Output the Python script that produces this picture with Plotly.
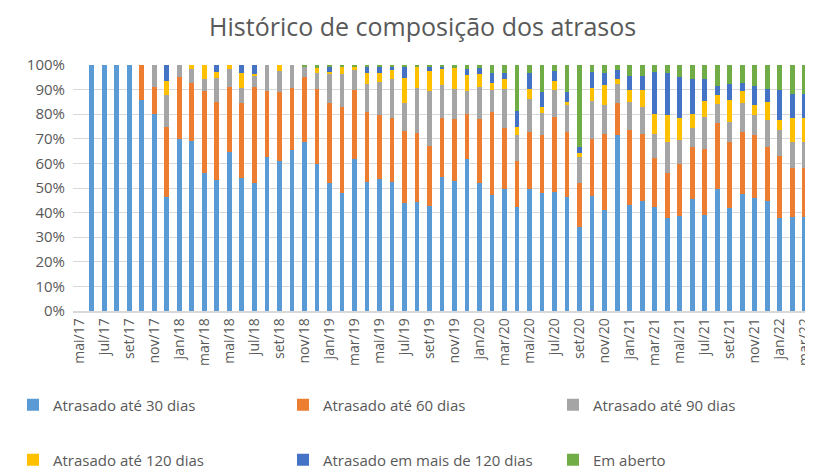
import plotly.graph_objects as go

months = ["mai/17", "jun/17", "jul/17", "ago/17", "set/17", "out/17", "nov/17", "dez/17",
          "jan/18", "fev/18", "mar/18", "abr/18", "mai/18", "jun/18", "jul/18", "ago/18",
          "set/18", "out/18", "nov/18", "dez/18",
          "jan/19", "fev/19", "mar/19", "abr/19", "mai/19", "jun/19", "jul/19", "ago/19",
          "set/19", "out/19", "nov/19", "dez/19",
          "jan/20", "fev/20", "mar/20", "abr/20", "mai/20", "jun/20", "jul/20", "ago/20",
          "set/20", "out/20", "nov/20", "dez/20",
          "jan/21", "fev/21", "mar/21", "abr/21", "mai/21", "jun/21", "jul/21", "ago/21",
          "set/21", "out/21", "nov/21", "dez/21",
          "jan/22", "fev/22", "mar/22"]

ate_30 = [0, 100, 100, 100, 100, 85.8, 80.0, 46.3, 69.9, 69.1, 56.1, 53.3, 64.8, 54.2,
          51.9, 62.7, 60.8, 65.4, 68.6, 59.9, 52.0, 47.8, 61.9, 52.3, 53.5, 52.4, 43.9,
          44.4, 42.5, 54.3, 52.8, 61.9, 52.2, 47.3, 49.6, 42.1, 49.6, 48.0, 48.2, 46.3,
          34.3, 46.6, 41.1, 71.4, 43.1, 44.6, 42.1, 37.7, 38.8, 45.5, 39.0, 49.6, 42.0,
          47.4, 45.8, 44.9, 37.7, 38.1, 38.1]
ate_60 = [0, 0, 0, 0, 0, 14.2, 11.2, 28.4, 25.4, 23.4, 33.5, 31.5, 26.3, 30.2,
          39.2, 26.9, 28.2, 25.1, 26.5, 30.2, 32.4, 35.1, 27.9, 28.7, 26.2, 26.1, 29.3,
          27.8, 24.6, 24.0, 25.4, 18.3, 25.8, 33.6, 24.9, 18.7, 23.0, 23.4, 30.5, 26.3,
          17.9, 23.5, 30.7, 13.3, 30.3, 27.4, 20.0, 18.5, 20.8, 21.2, 26.7, 26.7, 26.6,
          25.4, 25.7, 21.6, 25.2, 19.9, 19.9]
ate_90 = [0, 0, 0, 0, 0, 0, 8.8, 13.0, 4.7, 5.7, 4.8, 10.1, 7.1, 6.4,
          4.4, 10.4, 8.6, 9.5, 4.0, 6.6, 11.8, 13.3, 8.0, 11.1, 13.4, 15.9, 11.2,
          18.3, 22.2, 13.7, 12.2, 9.4, 12.9, 8.8, 15.9, 10.6, 13.4, 9.0, 11.3, 11.0,
          10.3, 15.1, 12.1, 7.6, 11.4, 11.1, 9.7, 12.4, 9.9, 7.6, 13.0, 8.0, 8.2,
          11.8, 8.0, 11.1, 10.7, 10.7, 10.7]
ate_120 = [0, 0, 0, 0, 0, 0, 0, 5.9, 0, 1.8, 5.6, 2.4, 1.8, 5.8,
           1.0, 0, 2.4, 0, 0, 1.9, 1.0, 3.0, 1.4, 4.5, 3.8, 3.6, 10.5,
           8.8, 8.3, 6.5, 8.5, 6.3, 5.6, 3.1, 4.0, 3.5, 4.4, 2.7, 3.5, 1.4,
           1.9, 5.5, 7.8, 2.1, 5.0, 6.9, 8.1, 11.1, 8.8, 5.9, 6.5, 3.6, 8.8,
           4.7, 4.4, 7.2, 3.9, 9.6, 9.6]
mais_120 = [0, 0, 0, 0, 0, 0, 0, 6.4, 0, 0, 0, 2.7, 0, 3.4,
            3.5, 0, 0, 0, 0, 0, 2.0, 0, 0, 2.6, 2.3, 1.3, 4.6,
            0, 1.9, 0.8, 0, 2.3, 2.1, 4.1, 2.2, 6.4, 6.2, 5.8, 4.1, 3.9,
            2.4, 6.3, 4.9, 3.4, 5.6, 5.4, 17.1, 16.9, 16.8, 14.1, 9.0, 3.6, 6.5,
            3.4, 7.6, 5.4, 12.2, 9.9, 9.9]
em_aberto = [0, 0, 0, 0, 0, 0, 0, 0, 0, 0, 0, 0, 0, 0,
             0, 0, 0, 0, 0.9, 1.4, 0.8, 0.8, 0.8, 0.8, 0.8, 0.7, 0.5,
             0.7, 0.5, 0.7, 1.1, 1.8, 1.4, 3.1, 3.4, 18.7, 3.4, 11.1, 2.4, 11.1,
             33.2, 3.0, 3.4, 2.2, 4.6, 4.6, 3.0, 3.4, 4.9, 5.7, 5.8, 8.5, 7.9,
             7.3, 8.5, 9.8, 10.3, 11.8, 11.8]

series_names = ["Atrasado até 30 dias", "Atrasado até 60 dias", "Atrasado até 90 dias",
                "Atrasado até 120 dias", "Atrasado em mais de 120 dias", "Em aberto"]
series_values = [ate_30, ate_60, ate_90, ate_120, mais_120, em_aberto]
colors = ["#5B9BD5", "#ED7D31", "#A5A5A5", "#FFC000", "#4472C4", "#70AD47"]

tick_labels = months[::2]
y_ticks = list(range(0, 101, 10))
y_tick_text = [f"{v}%" for v in y_ticks]

FONT = "Century Gothic, Open Sans, sans-serif"
TXT = "#595959"

# legend grid: 3 columns x 2 rows (pixel positions of each legend box)
legend_cols = [5, 275, 545]
legend_rows = [397, 452]

fig = go.Figure()
legend_layouts = {}
for i, (name, vals, col) in enumerate(zip(series_names, series_values, colors)):
    lid = "legend" if i == 0 else f"legend{i + 1}"
    fig.add_trace(go.Bar(x=months, y=vals, name=name, marker_color=col,
                         marker_line_width=0, legend=lid))
    legend_layouts[lid] = dict(
        orientation="h", xref="container", yref="container",
        xanchor="left", yanchor="middle",
        x=legend_cols[i % 3] / 813, y=1 - legend_rows[i // 3] / 470,
        font=dict(family=FONT, size=15, color=TXT),
        bgcolor="rgba(0,0,0,0)", itemclick=False, itemwidth=30)

fig.update_layout(
    width=813, height=470,
    barmode="stack", bargap=0.62,
    paper_bgcolor="white", plot_bgcolor="white",
    margin=dict(l=65, r=8, t=57, b=167),
    font=dict(family=FONT, color=TXT),
    title=dict(text="Histórico de composição dos atrasos", x=0.51, xanchor="center",
               y=0.978, yanchor="top",
               font=dict(family=FONT, size=25, color=TXT)),
    xaxis=dict(type="category", tickmode="array", tickvals=tick_labels, ticktext=tick_labels,
               tickangle=-90, tickfont=dict(family=FONT, size=14, color=TXT),
               showline=True, linecolor="#D9D9D9", linewidth=1.5,
               showgrid=False, ticks=""),
    yaxis=dict(range=[0, 100], tickmode="array", tickvals=y_ticks, ticktext=y_tick_text,
               tickfont=dict(family=FONT, size=15, color=TXT),
               showgrid=True, gridcolor="#D9D9D9", gridwidth=1,
               zeroline=False, ticks="outside", ticklen=4, tickcolor="rgba(0,0,0,0)"),
    showlegend=True,
    **legend_layouts,
)

fig.write_html("out.html")
